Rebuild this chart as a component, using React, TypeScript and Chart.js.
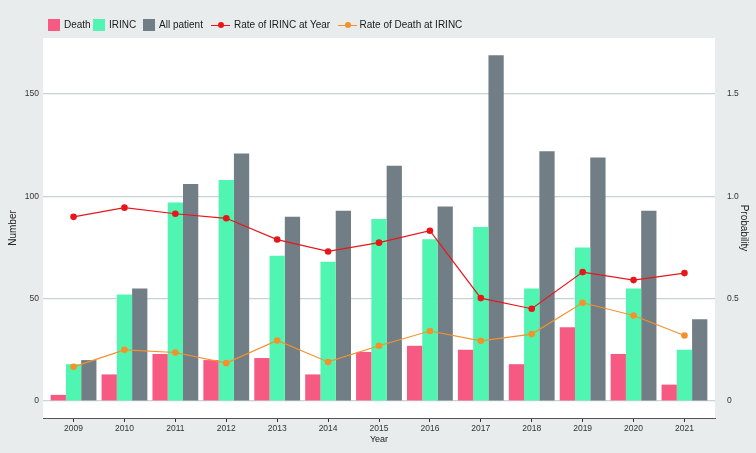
import { useEffect, useRef } from "react"
import { Chart, registerables, type ChartConfiguration, type Plugin } from "chart.js"

Chart.register(...registerables)

const years = [2009, 2010, 2011, 2012, 2013, 2014, 2015, 2016, 2017, 2018, 2019, 2020, 2021]
const death = [3, 13, 23, 20, 21, 13, 24, 27, 25, 18, 36, 23, 8]
const irinc = [18, 52, 97, 108, 71, 68, 89, 79, 85, 55, 75, 55, 25]
const allPatient = [20, 55, 106, 121, 90, 93, 115, 95, 169, 122, 119, 93, 40]
const rateIrincYear = [0.9, 0.945, 0.915, 0.893, 0.789, 0.731, 0.774, 0.832, 0.503, 0.451, 0.63, 0.591, 0.625]
const rateDeathIrinc = [0.167, 0.25, 0.237, 0.185, 0.296, 0.191, 0.27, 0.342, 0.294, 0.327, 0.48, 0.418, 0.32]
const numberTicks = [0, 50, 100, 150]
const probabilityTicks = [0, 0.5, 1.0, 1.5]

const PINK = "#f65a83"
const GREEN = "#50f5b1"
const GREY = "#727e86"
const RED = "#e8161b"
const ORANGE = "#f5912b"
const FONT = "'Liberation Sans', Arial, sans-serif"

const plotBackground: Plugin = {
  id: "plotBackground",
  beforeDraw(chart) {
    const { ctx, chartArea: a } = chart
    ctx.save()
    ctx.fillStyle = "#ffffff"
    ctx.fillRect(a.left, a.top, a.width, a.height)
    ctx.restore()
  },
}

function LegendBox({ color }: { color: string }) {
  return <span style={{ display: "inline-block", width: 12, height: 12, background: color }} />
}

function LegendLine({ color }: { color: string }) {
  return (
    <span style={{ position: "relative", display: "inline-block", width: 19, height: 12 }}>
      <span style={{ position: "absolute", left: 0, right: 0, top: 5.5, height: 1.2, background: color }} />
      <span
        style={{
          position: "absolute",
          left: 6.5,
          top: 3,
          width: 6,
          height: 6,
          borderRadius: 3,
          background: color,
        }}
      />
    </span>
  )
}

export default function App() {
  const canvasRef = useRef<HTMLCanvasElement>(null)
  const chartRef = useRef<Chart | null>(null)

  useEffect(() => {
    if (!canvasRef.current) return
    if (chartRef.current) chartRef.current.destroy()
    const ctx = canvasRef.current.getContext("2d")
    if (!ctx) return

    const pts = (vals: number[]) => years.map((y, i) => ({ x: y, y: vals[i] }))
    const tickFont = { family: FONT, size: 8.5 }

    const config: ChartConfiguration = {
      type: "bar",
      data: {
        datasets: [
          {
            type: "line",
            label: "Rate of IRINC at Year",
            data: pts(rateIrincYear),
            yAxisID: "y1",
            borderColor: RED,
            backgroundColor: RED,
            borderWidth: 1.2,
            pointRadius: 3.3,
            pointBorderWidth: 0,
            order: 0,
          },
          {
            type: "line",
            label: "Rate of Death at IRINC",
            data: pts(rateDeathIrinc),
            yAxisID: "y1",
            borderColor: ORANGE,
            backgroundColor: ORANGE,
            borderWidth: 1.2,
            pointRadius: 3.3,
            pointBorderWidth: 0,
            order: 0,
          },
          {
            label: "Death",
            data: pts(death),
            backgroundColor: PINK,
            categoryPercentage: 0.9,
            barPercentage: 1,
            order: 1,
          },
          {
            label: "IRINC",
            data: pts(irinc),
            backgroundColor: GREEN,
            categoryPercentage: 0.9,
            barPercentage: 1,
            order: 1,
          },
          {
            label: "All patient",
            data: pts(allPatient),
            backgroundColor: GREY,
            categoryPercentage: 0.9,
            barPercentage: 1,
            order: 1,
          },
        ],
      },
      options: {
        responsive: true,
        maintainAspectRatio: false,
        animation: false,
        layout: { padding: { top: 38, left: 0, right: 0, bottom: 0 } },
        plugins: {
          legend: { display: false },
          tooltip: { enabled: false },
        },
        scales: {
          x: {
            type: "linear",
            offset: false,
            min: 2008.4,
            max: 2021.6,
            afterBuildTicks: (scale) => {
              scale.ticks = years.map((v) => ({ value: v }))
            },
            afterFit: (scale) => {
              scale.height = 35
            },
            ticks: {
              callback: (v) => String(v),
              color: "#333",
              font: tickFont,
              padding: 2,
              maxRotation: 0,
            },
            grid: {
              offset: false,
              drawOnChartArea: false,
              drawTicks: true,
              tickLength: 4,
              color: "#333",
              lineWidth: 1,
            },
            border: { display: true, color: "#555", width: 1 },
            title: {
              display: true,
              text: "Year",
              color: "#222",
              font: { family: FONT, size: 9 },
              padding: { top: 0, bottom: 7.6 },
            },
          },
          y: {
            position: "left",
            min: -8.3,
            max: 177.4,
            afterBuildTicks: (scale) => {
              scale.ticks = numberTicks.map((v) => ({ value: v }))
            },
            afterFit: (scale) => {
              scale.width = 43
            },
            ticks: { color: "#333", font: tickFont, padding: 4, callback: (v) => String(v) },
            grid: { color: "#c8d4d4", lineWidth: 1.2, drawTicks: false },
            border: { display: false },
            title: {
              display: true,
              text: "Number",
              color: "#222",
              font: { family: FONT, size: 10 },
              padding: { top: 7.3, bottom: 0 },
            },
          },
          y1: {
            position: "right",
            min: -0.083,
            max: 1.774,
            afterBuildTicks: (scale) => {
              scale.ticks = probabilityTicks.map((v) => ({ value: v }))
            },
            afterFit: (scale) => {
              scale.width = 41
            },
            ticks: {
              color: "#333",
              font: tickFont,
              padding: 4,
              callback: (v) => (Number(v) === 0 ? "0" : Number(v).toFixed(1)),
            },
            grid: { display: false },
            border: { display: false },
            title: {
              display: true,
              text: "Probability",
              color: "#222",
              font: { family: FONT, size: 10 },
              padding: { top: 6.7, bottom: 0 },
            },
          },
        },
      },
      plugins: [plotBackground],
    }

    chartRef.current = new Chart(ctx, config)

    return () => {
      if (chartRef.current) {
        chartRef.current.destroy()
        chartRef.current = null
      }
    }
  }, [])

  const legendText = { fontFamily: FONT, fontSize: 10, color: "#1a1a1a", lineHeight: "12px" }

  return (
    <div
      style={{
        position: "absolute",
        left: 0,
        top: 0,
        width: 756,
        height: 453,
        background: "#e8ecec",
        overflow: "hidden",
      }}
    >
      <div style={{ position: "absolute", left: 0, top: 0, width: 756, height: 453 }}>
        <canvas ref={canvasRef}></canvas>
      </div>
      <div style={{ position: "absolute", left: 48, top: 19, height: 12, ...legendText }}>
        <span style={{ position: "absolute", left: 0, display: "flex", gap: 4, whiteSpace: "nowrap" }}>
          <LegendBox color={PINK} />
          <span>Death</span>
        </span>
        <span style={{ position: "absolute", left: 45, display: "flex", gap: 4, whiteSpace: "nowrap" }}>
          <LegendBox color={GREEN} />
          <span>IRINC</span>
        </span>
        <span style={{ position: "absolute", left: 94.5, display: "flex", gap: 4.5, whiteSpace: "nowrap" }}>
          <LegendBox color={GREY} />
          <span>All patient</span>
        </span>
        <span style={{ position: "absolute", left: 163, display: "flex", gap: 4, whiteSpace: "nowrap" }}>
          <LegendLine color={RED} />
          <span>Rate of IRINC at Year</span>
        </span>
        <span style={{ position: "absolute", left: 290, display: "flex", gap: 2.5, whiteSpace: "nowrap" }}>
          <LegendLine color={ORANGE} />
          <span>Rate of Death at IRINC</span>
        </span>
      </div>
    </div>
  )
}
